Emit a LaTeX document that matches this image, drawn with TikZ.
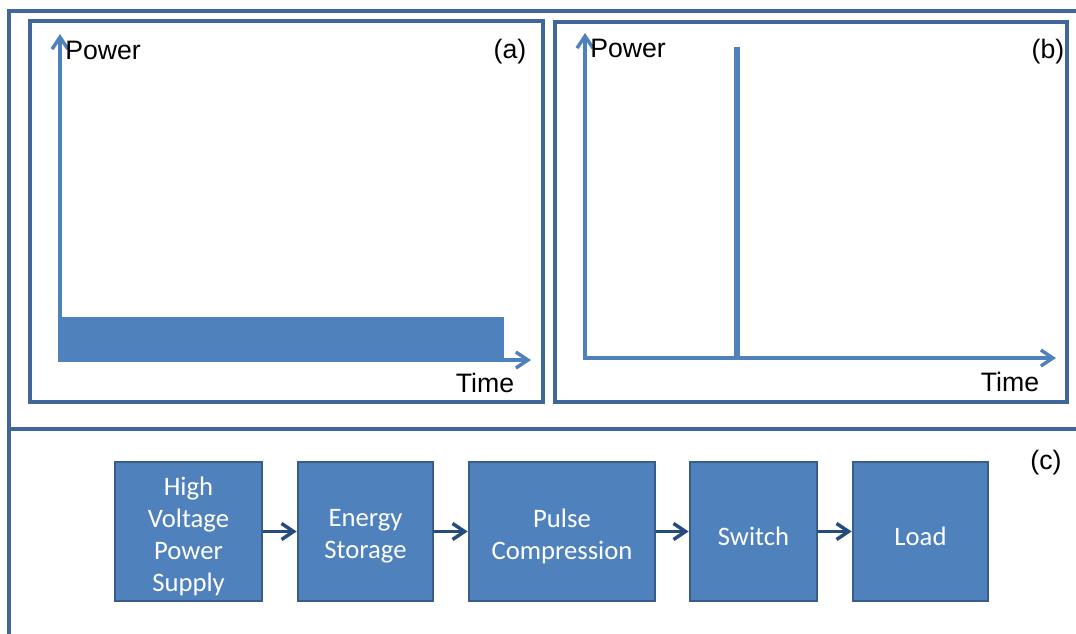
\documentclass[tikz,border=0pt]{standalone}
\usepackage{fontspec}
\setmainfont{Liberation Sans}
\newfontfamily\calib{Carlito}
\usetikzlibrary{arrows.meta}
\definecolor{frameblue}{HTML}{41679A}
\definecolor{axisblue}{HTML}{4F81BD}
\definecolor{blockfill}{HTML}{4F81BD}
\definecolor{blockedge}{HTML}{385D8A}
\definecolor{linkblue}{HTML}{254C7E}
\tikzset{
  panel/.style={draw=frameblue, line width=2.4pt},
  axisline/.style={draw=axisblue, line width=2.8pt,
    -{Straight Barb[length=9pt,width=12pt,line width=2.6pt]}},
  axislabel/.style={font=\fontsize{20}{24}\selectfont, inner sep=0pt},
  block/.style={draw=blockedge, line width=2pt, fill=blockfill,
    inner sep=0pt, minimum height=104.25pt},
  blocktext/.style={text=white, align=center, inner sep=0pt,
    font=\calib\fontsize{20}{24}\selectfont},
  link/.style={draw=linkblue, line width=2.8pt,
    -{Straight Barb[length=9pt,width=12pt,line width=2.6pt]}},
}
\begin{document}
\begin{tikzpicture}[x=0.75pt, y=-0.75pt]
\useasboundingbox (0,0) rectangle (1076,633);
\clip (0,0) rectangle (1076,633);

% outer frame and divider between the plots and the block chain
\draw[panel] (9,650) -- (9,11) -- (1090,11);
\draw[panel] (9,429) -- (1090,429);

% panel (a): steady power over a long time
\draw[panel] (30,21) rectangle (543,402);
\fill[axisblue] (59,317) rectangle (504,360);
\coordinate (a0) at (60,360);
\coordinate (ay) at (60,34);
\coordinate (ax) at (531,360);
\draw[axisline] (a0) -- (ay);
\draw[axisline] ([xshift=-1.4pt]a0) -- (ax);
\node[axislabel, anchor=west] (apow) at (65,50) {Power};
\node[axislabel] (alab) at (510,52) {(a)};
\node[axislabel] (atime) at (485,383) {Time};

% panel (b): short spike of high power
\draw[panel] (555,22) rectangle (1067,402);
\coordinate (b0) at (585,358);
\coordinate (by) at (585,33);
\coordinate (bx) at (1056,358);
\draw[axisline] (b0) -- (by);
\draw[axisline] ([xshift=-1.4pt]b0) -- (bx);
\coordinate (s0) at (737,358);
\coordinate (s1) at (737,47);
\draw[draw=axisblue, line width=3.8pt] (s0) -- (s1);
\node[axislabel, anchor=west] (bpow) at (590,48) {Power};
\node[axislabel] (blab) at (1048,52) {(b)};
\node[axislabel] (btime) at (1010,382) {Time};

% panel (c): pulsed power chain
\node[axislabel] (clab) at (1046,463) {(c)};
\node[block, minimum width=110.25pt] (hv) at (188.5,531.5) {};
\node[block, minimum width=101.25pt] (es) at (365.5,531.5) {};
\node[block, minimum width=139.5pt] (pc) at (562,531.5) {};
\node[block, minimum width=95.25pt] (sw) at (753.5,531.5) {};
\node[block, minimum width=101.25pt] (ld) at (920.5,531.5) {};
\node[blocktext] (hvt) at ([yshift=-3.5pt]hv.center) {High\\Voltage\\Power\\Supply};
\node[blocktext] (est) at ([yshift=-3.5pt]es.center) {Energy\\Storage};
\node[blocktext] (pct) at ([yshift=-3.5pt]pc.center) {Pulse\\Compression};
\node[blocktext] (swt) at ([yshift=-3.5pt]sw.center) {Switch};
\node[blocktext] (ldt) at ([yshift=-3.5pt]ld.center) {Load};
\draw[link] (hv) -- (es);
\draw[link] (es) -- (pc);
\draw[link] (pc) -- (sw);
\draw[link] (sw) -- (ld);
\end{tikzpicture}
\end{document}
